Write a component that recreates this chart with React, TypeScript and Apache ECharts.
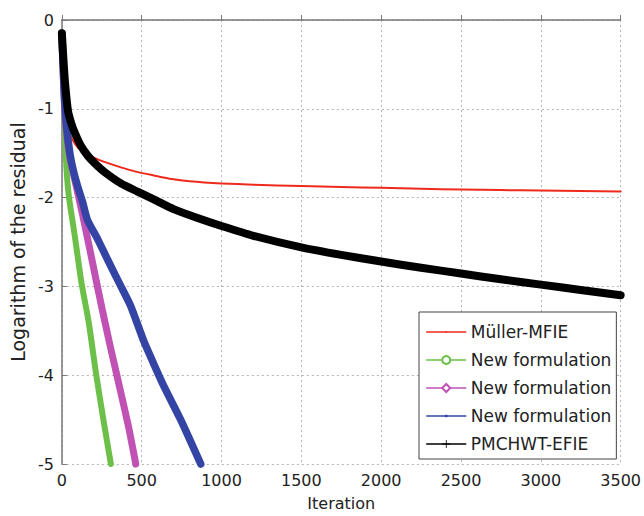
import React, { useEffect, useRef } from "react";
import * as echarts from "echarts";

// ---- data ----
const seriesNames = ["Müller-MFIE", "New formulation", "New formulation ", "New formulation  ", "PMCHWT-EFIE"];

const redX = [0, 10, 25, 45, 70, 120, 225, 370, 470, 576, 688, 800, 1000, 1200, 1500, 1750, 2000, 2250, 2500, 2750, 3000, 3250, 3500];
const redY = [-0.15, -0.6, -1.0, -1.25, -1.36, -1.47, -1.57, -1.66, -1.71, -1.75, -1.79, -1.815, -1.84, -1.855, -1.87, -1.88, -1.89, -1.9, -1.91, -1.915, -1.92, -1.925, -1.93];

const greenX = [0, 10, 20, 30, 45, 80, 122, 168, 214, 260, 307];
const greenY = [-0.15, -0.75, -1.3, -1.7, -2.0, -2.42, -2.95, -3.4, -3.98, -4.5, -5.0];

const magentaX = [0, 10, 25, 50, 81, 132, 184, 240, 300, 370, 420, 463];
const magentaY = [-0.15, -0.7, -1.2, -1.55, -1.8, -2.21, -2.66, -3.15, -3.65, -4.2, -4.6, -5.0];

const blueX = [0, 15, 30, 50, 75, 100, 130, 160, 225, 287, 359, 431, 514, 575, 638, 741, 800, 870];
const blueY = [-0.15, -0.8, -1.2, -1.5, -1.72, -1.88, -2.05, -2.25, -2.47, -2.7, -2.96, -3.22, -3.62, -3.87, -4.12, -4.49, -4.72, -5.0];

const blackX = [0, 10, 19, 39, 60, 81, 120, 163, 210, 266, 370, 471, 576, 700, 850, 1000, 1200, 1500, 1750, 2000, 2250, 2500, 2750, 3000, 3250, 3500];
const blackY = [-0.15, -0.45, -0.69, -1.03, -1.17, -1.27, -1.42, -1.53, -1.62, -1.71, -1.84, -1.93, -2.02, -2.13, -2.23, -2.32, -2.43, -2.56, -2.645, -2.72, -2.79, -2.855, -2.92, -2.98, -3.04, -3.1];

const xTicks = { min: 0, max: 3500, interval: 500 };
const yTicks = { min: -5, max: 0, interval: 1 };

const colors = ["#ee2a1c", "#6cc04a", "#c052b4", "#3444a4", "#000000"];

const pairs = (xs: number[], ys: number[]) => xs.map((x, i) => [x, ys[i]]);

export default function App() {
  const ref = useRef<HTMLDivElement>(null);
  useEffect(() => {
    document.body.style.margin = "0";
    const chart = echarts.init(ref.current!, null, { renderer: "svg" });
    const font = "DejaVu Sans";
    const lineSeries = (name: string, data: number[][], color: string, width: number, symbol: string, z: number) => ({
      name,
      type: "line",
      data,
      showSymbol: false,
      symbol,
      smooth: 0.2,
      clip: false,
      z,
      itemStyle: { color },
      lineStyle: { color, width, cap: "round", join: "round" },
    });
    const axisCommon = {
      axisLine: { show: true, lineStyle: { color: "#777777", width: 1.5 } },
      axisTick: { show: true, inside: true, length: 5, lineStyle: { color: "#777777" } },
      axisLabel: { fontFamily: font, fontSize: 16, color: "#222222", margin: 8, formatter: (v: number) => String(v) },
      splitLine: { show: true, lineStyle: { color: "#b5b5b5", type: [2, 3], width: 1 } },
    };
    chart.setOption({
      animation: false,
      backgroundColor: "#ffffff",
      grid: { left: 57, right: 22, top: 20, bottom: 51 },
      legend: {
        orient: "vertical",
        left: 419,
        top: 312,
        padding: [11, 5, 6, 7],
        itemWidth: 39,
        itemHeight: 10,
        itemGap: 10,
        backgroundColor: "#ffffff",
        borderColor: "#444444",
        borderWidth: 1,
        borderRadius: 0,
        lineStyle: { width: 1.5 },
        textStyle: { fontFamily: font, fontSize: 17, color: "#222222", lineHeight: 18 },
        formatter: (n: string) => n.trim(),
        data: seriesNames,
        selectedMode: false,
      },
      xAxis: {
        type: "value",
        ...xTicks,
        name: "Iteration",
        nameLocation: "middle",
        nameGap: 31,
        nameTextStyle: { fontFamily: font, fontSize: 16, color: "#222222" },
        ...axisCommon,
      },
      yAxis: {
        type: "value",
        ...yTicks,
        name: "Logarithm of the residual",
        nameLocation: "middle",
        nameGap: 29,
        nameTextStyle: { fontFamily: font, fontSize: 19, color: "#222222" },
        ...axisCommon,
      },
      series: [
        lineSeries(seriesNames[0], pairs(redX, redY), colors[0], 2, "path://M0 0M10 10M4 4h2v2h-2z", 2),
        lineSeries(seriesNames[1], pairs(greenX, greenY), colors[1], 6, "emptyCircle", 3),
        lineSeries(seriesNames[2], pairs(magentaX, magentaY), colors[2], 7, "emptyDiamond", 4),
        lineSeries(seriesNames[3], pairs(blueX, blueY), colors[3], 7.5, "path://M0 0M10 10M3.5 3.5h3v3h-3z", 5),
        lineSeries(seriesNames[4], pairs(blackX, blackY), colors[4], 8, "path://M4.5 0h1v4.5h4.5v1h-4.5v4.5h-1v-4.5h-4.5v-1h4.5z", 6),
      ],
    });
    return () => chart.dispose();
  }, []);
  return <div ref={ref} style={{ width: 644, height: 516 }} />;
}
